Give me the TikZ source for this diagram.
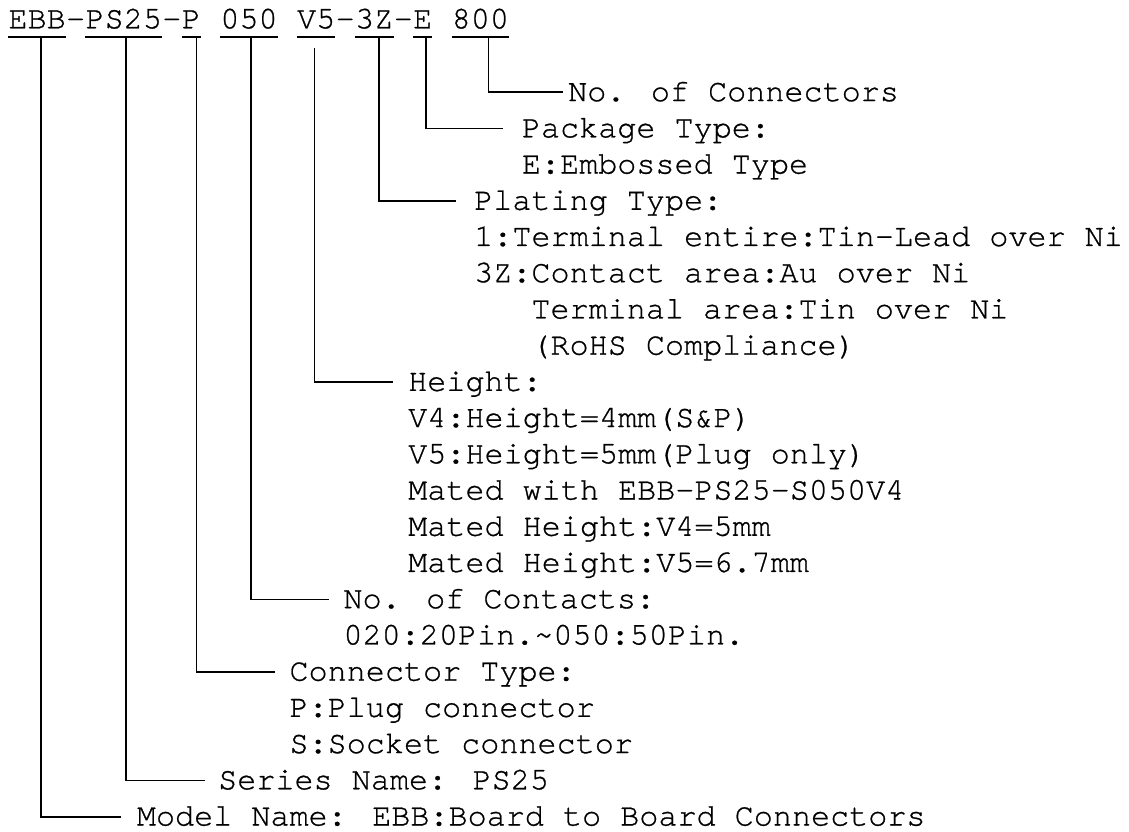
\documentclass[tikz,border=0pt]{standalone}
\usepackage{fontspec}
\setmainfont{TeX Gyre Cursor}[FakeBold=0.8]
\usepackage{tikz}
\usetikzlibrary{positioning}

\tikzset{
  code/.style={inner sep=0pt, text height=17.6pt, text depth=8.4pt, anchor=base west},
  lbl/.style={inner sep=0pt, text height=17.6pt, text depth=0pt, anchor=west},
  lead/.style={line width=1.7pt},
}
\newcommand{\rowy}[1]{92.3+36.22*#1}

\begin{document}
\begin{tikzpicture}[x=1pt, y=-1pt, font={\fontsize{31.8pt}{36.2pt}\selectfont}]
        \useasboundingbox (0,0) rectangle (1129,831);

        % part number
        \node[code] (ebb) at (8.3,28.3) {EBB};
        \node[code, right=0pt of ebb] (da) {-};
        \node[code, right=0pt of da] (ps) {PS25};
        \node[code, right=0pt of ps] (db) {-};
        \node[code, right=0pt of db] (p) {P};
        \node[code, right=19.08pt of p] (num) {050};
        \node[code, right=19.08pt of num] (ht) {V5};
        \node[code, right=0pt of ht] (dc) {-};
        \node[code, right=0pt of dc] (plt) {3Z};
        \node[code, right=0pt of plt] (dd) {-};
        \node[code, right=0pt of dd] (pkg) {E};
        \node[code, right=19.08pt of pkg] (qty) {800};
        \foreach \n in {ebb,ps,p,num,ht,plt,pkg,qty}
                \draw[lead] (\n.south west) -- (\n.south east);

        % explanations
        \node[lbl] (lqty) at (568,{\rowy{0}}) {No. of Connectors};
        \node[lbl] (lpkg) at (521.7,{\rowy{1}}) {Package Type:};
        \node[lbl] (lpkga) at (521.7,{\rowy{2}}) {E:Embossed Type};
        \node[lbl] (lplt) at (474,{\rowy{3}}) {Plating Type:};
        \node[lbl] (lplta) at (474,{\rowy{4}}) {1:Terminal entire:Tin-Lead over Ni};
        \node[lbl] (lpltb) at (474,{\rowy{5}}) {3Z:Contact area:Au over Ni};
        \node[lbl] (lpltc) at (531.2,{\rowy{6}}) {Terminal area:Tin over Ni};
        \node[lbl] (lpltd) at (531.2,{\rowy{7}}) {(RoHS Compliance)};
        \node[lbl] (lht) at (408,{\rowy{8}}) {Height:};
        \node[lbl] (lhta) at (408,{\rowy{9}}) {V4:Height=4mm(S\&P)};
        \node[lbl] (lhtb) at (408,{\rowy{10}}) {V5:Height=5mm(Plug only)};
        \node[lbl] (lhtc) at (408,{\rowy{11}}) {Mated with EBB-PS25-S050V4};
        \node[lbl] (lhtd) at (408,{\rowy{12}}) {Mated Height:V4=5mm};
        \node[lbl] (lhte) at (408,{\rowy{13}}) {Mated Height:V5=6.7mm};
        \node[lbl] (lnum) at (343.3,{\rowy{14}}) {No. of Contacts:};
        \node[lbl] (lnuma) at (343.3,{\rowy{15}}) {020:20Pin.\char`\~050:50Pin.};
        \node[lbl] (ltype) at (289.3,{\rowy{16}}) {Connector Type:};
        \node[lbl] (ltypea) at (289.3,{\rowy{17}}) {P:Plug connector};
        \node[lbl] (ltypeb) at (289.3,{\rowy{18}}) {S:Socket connector};
        \node[lbl] (lser) at (218,{\rowy{19}}) {Series Name: PS25};
        \node[lbl] (lmod) at (136.7,{\rowy{20}}) {Model Name: EBB:Board to Board Connectors};

        % leaders
        \draw[lead] ([xshift=8pt]qty.south) |- ([xshift=-5pt]lqty.west);
        \draw[lead] ([xshift=3.5pt]pkg.south) |- ([xshift=-19pt]lpkg.west);
        \draw[lead] ([xshift=4.5pt]plt.south) |- ([xshift=-18pt]lplt.west);
        \draw[lead] ([xshift=-1.6pt,yshift=-11.3pt]ht.south) |- ([xshift=-15pt]lht.west);
        \draw[lead] ([xshift=1.9pt]num.south) |- ([xshift=-14pt]lnum.west);
        \draw[lead] ([xshift=5.2pt]p.south) |- ([xshift=-14pt]ltype.west);
        \draw[lead] ([xshift=2.1pt]ps.south) |- ([xshift=-13pt]lser.west);
        \draw[lead] ([xshift=3.7pt]ebb.south) |- ([xshift=-16pt]lmod.west);
\end{tikzpicture}
\end{document}
